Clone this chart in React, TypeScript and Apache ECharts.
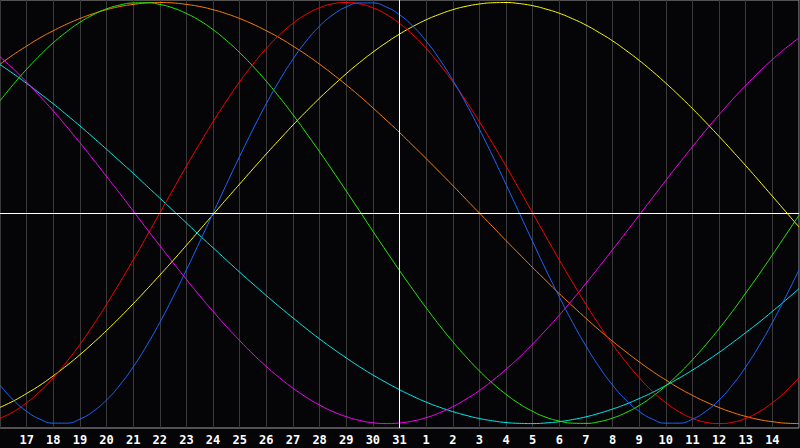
import React, { useEffect, useRef } from "react";
import * as echarts from "echarts";

// Day labels for integer positions 0..30 (16th of the month to the 15th of the next)
const days = [
  "16", "17", "18", "19", "20", "21", "22", "23", "24", "25", "26", "27", "28", "29", "30", "31",
  "1", "2", "3", "4", "5", "6", "7", "8", "9", "10", "11", "12", "13", "14", "15",
];
const todayIndex = 15;

// Sample positions (half-day steps)
const times = [
  0, 0.5, 1, 1.5, 2, 2.5, 3, 3.5, 4, 4.5, 5, 5.5, 6, 6.5, 7, 7.5, 8, 8.5, 9, 9.5,
  10, 10.5, 11, 11.5, 12, 12.5, 13, 13.5, 14, 14.5, 15, 15.5, 16, 16.5, 17, 17.5, 18, 18.5, 19, 19.5,
  20, 20.5, 21, 21.5, 22, 22.5, 23, 23.5, 24, 24.5, 25, 25.5, 26, 26.5, 27, 27.5, 28, 28.5, 29, 29.5, 30,
];

const red = [
  -0.975, -0.944, -0.901, -0.847, -0.782, -0.707, -0.624, -0.532, -0.434, -0.33, -0.223, -0.112, 0, 0.112, 0.223, 0.33, 0.434, 0.532, 0.624, 0.707,
  0.782, 0.847, 0.901, 0.944, 0.975, 0.994, 1, 0.994, 0.975, 0.944, 0.901, 0.847, 0.782, 0.707, 0.624, 0.532, 0.434, 0.33, 0.223, 0.112,
  0, -0.112, -0.223, -0.33, -0.434, -0.532, -0.624, -0.707, -0.782, -0.847, -0.901, -0.944, -0.975, -0.994, -1, -0.994, -0.975, -0.944, -0.901, -0.847, -0.782,
];
const blue = [
  -0.817, -0.888, -0.942, -0.979, -0.998, -0.998, -0.979, -0.942, -0.888, -0.817, -0.731, -0.631, -0.52, -0.398, -0.27, -0.136, 0, 0.136, 0.27, 0.398,
  0.52, 0.631, 0.731, 0.817, 0.888, 0.942, 0.979, 0.998, 0.998, 0.979, 0.942, 0.888, 0.817, 0.731, 0.631, 0.52, 0.398, 0.27, 0.136, 0,
  -0.136, -0.27, -0.398, -0.52, -0.631, -0.731, -0.817, -0.888, -0.942, -0.979, -0.998, -0.998, -0.979, -0.942, -0.888, -0.817, -0.731, -0.631, -0.52, -0.398, -0.27,
];
const green = [
  0.533, 0.611, 0.683, 0.749, 0.809, 0.861, 0.906, 0.942, 0.97, 0.988, 0.998, 0.999, 0.991, 0.974, 0.948, 0.914, 0.871, 0.82, 0.762, 0.697,
  0.626, 0.549, 0.467, 0.38, 0.291, 0.199, 0.105, 0.01, -0.086, -0.18, -0.273, -0.363, -0.45, -0.533, -0.611, -0.683, -0.75, -0.809, -0.861, -0.906,
  -0.942, -0.97, -0.988, -0.998, -0.999, -0.991, -0.974, -0.948, -0.914, -0.871, -0.82, -0.762, -0.697, -0.626, -0.549, -0.467, -0.38, -0.291, -0.199, -0.105, -0.01,
];
const yellow = [
  -0.923, -0.893, -0.857, -0.818, -0.773, -0.725, -0.673, -0.617, -0.558, -0.496, -0.431, -0.364, -0.295, -0.225, -0.153, -0.08, -0.007, 0.066, 0.138, 0.21,
  0.281, 0.35, 0.418, 0.483, 0.546, 0.605, 0.662, 0.715, 0.764, 0.809, 0.85, 0.886, 0.918, 0.944, 0.966, 0.982, 0.993, 0.999, 1, 0.995,
  0.985, 0.969, 0.949, 0.923, 0.893, 0.857, 0.818, 0.773, 0.725, 0.673, 0.617, 0.558, 0.496, 0.431, 0.364, 0.295, 0.225, 0.153, 0.08, 0.007, -0.066,
];
const magenta = [
  0.742, 0.685, 0.622, 0.555, 0.485, 0.411, 0.334, 0.255, 0.174, 0.093, 0.01, -0.073, -0.155, -0.236, -0.315, -0.393, -0.467, -0.539, -0.606, -0.67,
  -0.729, -0.783, -0.832, -0.875, -0.912, -0.943, -0.967, -0.985, -0.996, -1, -0.997, -0.988, -0.972, -0.949, -0.92, -0.884, -0.843, -0.795, -0.742, -0.685,
  -0.622, -0.555, -0.485, -0.411, -0.334, -0.255, -0.174, -0.093, -0.01, 0.073, 0.155, 0.236, 0.315, 0.393, 0.467, 0.539, 0.606, 0.67, 0.729, 0.783, 0.832,
];
const cyan = [
  0.705, 0.662, 0.616, 0.568, 0.519, 0.467, 0.414, 0.359, 0.303, 0.246, 0.189, 0.13, 0.071, 0.012, -0.047, -0.107, -0.165, -0.223, -0.281, -0.337,
  -0.392, -0.446, -0.498, -0.549, -0.598, -0.644, -0.688, -0.73, -0.769, -0.805, -0.839, -0.87, -0.898, -0.922, -0.943, -0.961, -0.976, -0.987, -0.995, -0.999,
  -1, -0.997, -0.991, -0.981, -0.968, -0.951, -0.931, -0.908, -0.881, -0.852, -0.819, -0.784, -0.746, -0.705, -0.662, -0.616, -0.568, -0.519, -0.467, -0.414, -0.359,
];
const orange = [
  0.707, 0.752, 0.793, 0.832, 0.866, 0.897, 0.924, 0.947, 0.966, 0.981, 0.991, 0.998, 1, 0.998, 0.991, 0.981, 0.966, 0.947, 0.924, 0.897,
  0.866, 0.832, 0.793, 0.752, 0.707, 0.659, 0.609, 0.556, 0.5, 0.442, 0.383, 0.321, 0.259, 0.195, 0.131, 0.065, 0, -0.065, -0.131, -0.195,
  -0.259, -0.321, -0.383, -0.442, -0.5, -0.556, -0.609, -0.659, -0.707, -0.752, -0.793, -0.832, -0.866, -0.897, -0.924, -0.947, -0.966, -0.981, -0.991, -0.998, -1,
];

const curves = [
  { name: "orange", data: orange, color: "#ff8000" },
  { name: "cyan", data: cyan, color: "#00f0f0" },
  { name: "magenta", data: magenta, color: "#ff00ff" },
  { name: "yellow", data: yellow, color: "#ffff00" },
  { name: "green", data: green, color: "#22ee00" },
  { name: "red", data: red, color: "#ff0000" },
  { name: "blue", data: blue, color: "#1a66ff" },
];

export default function App() {
  const ref = useRef<HTMLDivElement>(null);
  useEffect(() => {
    document.body.style.margin = "0";
    const chart = echarts.init(ref.current!, null, { renderer: "svg" });
    const series: any[] = curves.map((c) => ({
      name: c.name,
      type: "line",
      data: c.data.map((v, i) => [times[i], v]),
      smooth: true,
      symbol: "none",
      lineStyle: { color: c.color, width: 1 },
      z: 3,
    }));
    series.push({
      name: "refs",
      type: "line",
      data: [],
      symbol: "none",
      z: 2,
      markLine: {
        silent: true,
        symbol: "none",
        label: { show: false },
        lineStyle: { color: "#ffffff", width: 1, type: "solid" },
        data: [{ yAxis: 0 }, { xAxis: todayIndex }],
      },
    });
    chart.setOption({
      animation: false,
      backgroundColor: "#050508",
      grid: {
        left: 0,
        right: 1,
        top: 0,
        height: 428,
        show: true,
        borderColor: "#a0a0a0",
        borderWidth: 1,
        backgroundColor: "transparent",
      },
      xAxis: {
        type: "value",
        min: 0,
        max: 30,
        interval: 1,
        axisLine: { show: true, lineStyle: { color: "#b0b0b0" } },
        axisTick: { show: false },
        axisLabel: {
          color: "#ffffff",
          fontFamily: "DejaVu Sans Mono",
          fontWeight: "bold",
          fontSize: 12,
          margin: 6,
          showMinLabel: false,
          showMaxLabel: false,
          formatter: (v: number) => (v > 0 && v < 30 ? days[Math.round(v)] : ""),
        },
        splitLine: { show: true, lineStyle: { color: "#3a3a3a", width: 1 } },
      },
      yAxis: {
        type: "value",
        min: -1.021,
        max: 1.012,
        show: false,
        splitLine: { show: false },
      },
      series,
    });
    return () => chart.dispose();
  }, []);
  return <div ref={ref} style={{ width: 800, height: 448 }} />;
}
